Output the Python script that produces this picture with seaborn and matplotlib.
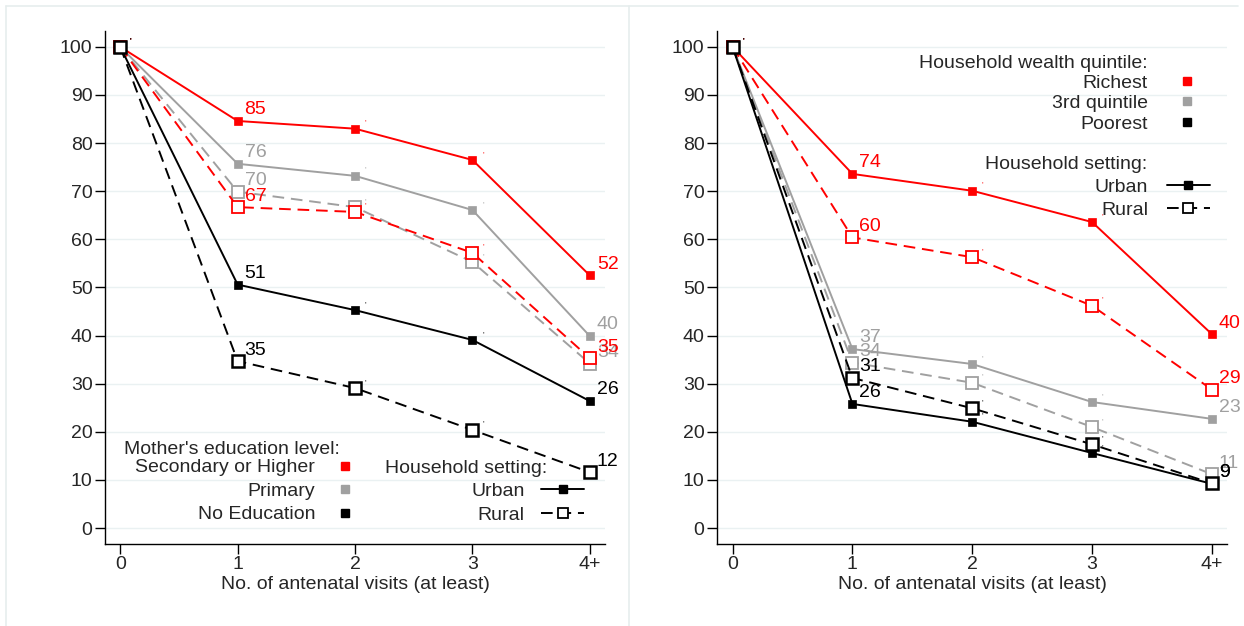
import numpy as np
import pandas as pd
import matplotlib
matplotlib.use("Agg")
import matplotlib.pyplot as plt
import seaborn as sns
from matplotlib.lines import Line2D

visits = ["0", "1", "2", "3", "4+"]
x_pos = [0, 1, 2, 3, 4]

# left panel: mother's education level
sec_urban = [100, 84.6, 83.0, 76.5, 52.5]
sec_rural = [100, 66.7, 65.7, 57.2, 35.3]
pri_urban = [100, 75.7, 73.2, 66.1, 39.9]
pri_rural = [100, 69.9, 66.7, 55.3, 34.2]
noed_urban = [100, 50.6, 45.3, 39.1, 26.4]
noed_rural = [100, 34.7, 29.1, 20.4, 11.6]
edu_labels = ["Secondary or Higher", "Primary", "No Education"]

# right panel: household wealth quintile
rich_urban = [100, 73.6, 70.1, 63.6, 40.3]
rich_rural = [100, 60.4, 56.3, 46.2, 28.8]
mid_urban = [100, 37.2, 34.1, 26.2, 22.7]
mid_rural = [100, 34.4, 30.2, 21.0, 11.2]
poor_urban = [100, 25.8, 22.1, 15.6, 9.2]
poor_rural = [100, 31.2, 24.9, 17.4, 9.3]
wealth_labels = ["Richest", "3rd quintile", "Poorest"]

setting_labels = ["Urban", "Rural"]

RED = "#FF0000"
GREY = "#A0A0A0"
BLACK = "#000000"
DASH = (0, (6, 3.5))
FS = 14

sns.set_style("ticks")
plt.rcParams['font.family'] = ['Liberation Sans', 'DejaVu Sans']

fig = plt.figure(figsize=(12.44, 6.26), dpi=100)
ax1 = fig.add_axes([0.0844, 0.131, 0.402, 0.8195])
ax2 = fig.add_axes([0.5764, 0.131, 0.4103, 0.8195])


def draw_series(ax, vals, color, rural):
    df = pd.DataFrame({'visit': x_pos, 'pct': vals})
    if rural:
        sns.lineplot(data=df, x='visit', y='pct', ax=ax, color=color, lw=1.4,
                     linestyle=DASH, marker='s', markersize=8.5,
                     markerfacecolor='white', markeredgecolor=color,
                     markeredgewidth=1.8 if color == BLACK else 1.3)
    else:
        sns.lineplot(data=df, x='visit', y='pct', ax=ax, color=color, lw=1.4,
                     marker='s', markersize=6, markerfacecolor=color,
                     markeredgecolor=color, markeredgewidth=0.5)
    for xi, v in zip(x_pos, vals):
        if xi in (1, 4):
            ax.annotate(f"{v:.0f}", (xi, v), xytext=(5, 8), textcoords='offset points',
                        color=color, fontsize=FS, ha='left', va='center')
        else:
            ax.annotate("'", (xi, v), xytext=(7, 4), textcoords='offset points',
                        color=color, fontsize=6, ha='left', va='center')


for vals, color, rural in [(pri_urban, GREY, False), (pri_rural, GREY, True),
                           (sec_urban, RED, False), (sec_rural, RED, True),
                           (noed_urban, BLACK, False), (noed_rural, BLACK, True)]:
    draw_series(ax1, vals, color, rural)

for vals, color, rural in [(mid_urban, GREY, False), (mid_rural, GREY, True),
                           (rich_urban, RED, False), (rich_rural, RED, True),
                           (poor_urban, BLACK, False), (poor_rural, BLACK, True)]:
    draw_series(ax2, vals, color, rural)

for ax in (ax1, ax2):
    ax.set_xlim(-0.13, 4.13)
    ax.set_ylim(-3.3, 103.3)
    ax.set_xticks(x_pos, visits)
    ax.set_yticks(range(0, 101, 10))
    ax.yaxis.grid(True, color='#EAF1F2', lw=1)
    ax.xaxis.grid(False)
    ax.set_axisbelow(True)
    ax.tick_params(axis='both', direction='out', length=7, width=1, labelsize=FS,
                   color='black', pad=2)
    ax.set_xlabel("No. of antenatal visits (at least)", fontsize=FS, labelpad=2)
    ax.set_ylabel("")
    sns.despine(ax=ax)
    for s in ('left', 'bottom'):
        ax.spines[s].set_color('black')
        ax.spines[s].set_linewidth(1)

colour_handles = [Line2D([], [], ls='none', marker='s', ms=6, color=c) for c in (RED, GREY, BLACK)]
setting_handles = [
    Line2D([], [], color=BLACK, lw=1.4, marker='s', ms=6),
    Line2D([], [], color=BLACK, lw=1.4, ls=DASH, marker='s', ms=7, mfc='white', mew=1.3),
]

common = dict(loc='upper right', frameon=False, markerfirst=False,
              fontsize=FS, borderpad=0, borderaxespad=0)


def key(ax, title, title_xy, handles, labels, anchor, hl, pad, spacing):
    # legend title set as its own text so the entries can hang right of it
    ax.text(title_xy[0], title_xy[1], title, transform=ax.transAxes,
            fontsize=FS, ha='left', va='center')
    leg = ax.legend(handles, labels, bbox_to_anchor=anchor, handlelength=hl,
                    handletextpad=pad, labelspacing=spacing, **common)
    ax.add_artist(leg)
    ax.legend_ = None  # keep it only as an artist, drawn once


key(ax1, "Mother's education level:", (0.038, 0.185), colour_handles, edu_labels,
    (0.500, 0.166), 1, 1.05, 0.3)
key(ax1, "Household setting:", (0.559, 0.148), setting_handles, setting_labels,
    (0.958, 0.121), 2.2, 0.85, 0.35)
key(ax2, "Household wealth quintile:", (0.396, 0.9375), colour_handles, wealth_labels,
    (0.939, 0.916), 1, 1.5, 0.15)
key(ax2, "Household setting:", (0.525, 0.740), setting_handles, setting_labels,
    (0.965, 0.713), 2.2, 0.95, 0.27)

# light frame around each panel, like a combined graph
border = '#E6EDED'
fig.add_artist(Line2D([0.0048, 0.995], [0.9904, 0.9904], transform=fig.transFigure, color=border, lw=1.2))
fig.add_artist(Line2D([0.0048, 0.0048], [0, 0.9904], transform=fig.transFigure, color=border, lw=1.2))
fig.add_artist(Line2D([0.5056, 0.5056], [0, 0.9904], transform=fig.transFigure, color=border, lw=1.2))

fig.savefig("out.png", dpi=100)
